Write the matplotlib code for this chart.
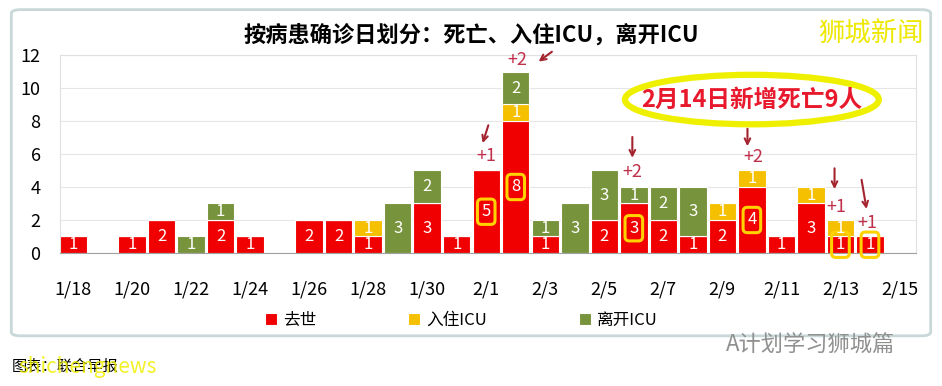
import matplotlib
matplotlib.use('Agg')
from matplotlib import pyplot as plt
from matplotlib.patches import FancyBboxPatch, Ellipse

plt.rcParams['font.family'] = ['Noto Sans CJK SC', 'DejaVu Sans']

dates = ['1/18', '1/19', '1/20', '1/21', '1/22', '1/23', '1/24', '1/25', '1/26', '1/27',
         '1/28', '1/29', '1/30', '1/31', '2/1', '2/2', '2/3', '2/4', '2/5', '2/6',
         '2/7', '2/8', '2/9', '2/10', '2/11', '2/12', '2/13', '2/14', '2/15']
died = [1, 0, 1, 2, 0, 2, 1, 0, 2, 2, 1, 0, 3, 1, 5, 8, 1, 0, 2, 3, 2, 1, 2, 4, 1, 3, 1, 1, 0]
icu_in = [0, 0, 0, 0, 0, 0, 0, 0, 0, 0, 1, 0, 0, 0, 0, 1, 0, 0, 0, 0, 0, 0, 1, 1, 0, 1, 1, 0, 0]
icu_out = [0, 0, 0, 0, 1, 1, 0, 0, 0, 0, 0, 3, 2, 0, 0, 2, 1, 3, 3, 1, 2, 3, 0, 0, 0, 0, 0, 0, 0]
# new deaths added on 2/14, by diagnosis date
added = {'2/1': '+1', '2/2': '+2', '2/6': '+2', '2/10': '+2', '2/13': '+1', '2/14': '+1'}

red = '#F00000'
yellow = '#F5C000'
green = '#77933C'
dark = '#A3232E'

fig = plt.figure(figsize=(9.42, 3.86), dpi=100)
# outer chart frame
frame = FancyBboxPatch((0.012, 0.13), 0.976, 0.845, boxstyle='round,pad=0,rounding_size=0.01',
                       transform=fig.transFigure, facecolor='white', edgecolor='#C8D8D8', lw=2, zorder=-5)
fig.patches.append(frame)
ax = fig.add_axes([0.0637, 0.3446, 0.9087, 0.5129])
ax.patch.set_alpha(0)

x = list(range(len(dates)))
bottom2 = [a + b for a, b in zip(died, icu_in)]
b1 = ax.bar(x, died, width=0.93, color=red, edgecolor='white', linewidth=0.8, label='去世')
b2 = ax.bar(x, icu_in, bottom=died, width=0.93, color=yellow, edgecolor='white', linewidth=0.8, label='入住ICU')
b3 = ax.bar(x, icu_out, bottom=bottom2, width=0.93, color=green, edgecolor='white', linewidth=0.8, label='离开ICU')

for i in x:
    if died[i]:
        if dates[i] in added:
            ax.text(i, died[i] / 2, str(died[i]), ha='center', va='center', color='white', fontsize=12,
                    bbox=dict(boxstyle='round,pad=0.25', fc='none', ec='#FFD200', lw=2.2))
        else:
            ax.text(i, died[i] / 2, str(died[i]), ha='center', va='center', color='white', fontsize=12)
    if icu_in[i]:
        ax.text(i, died[i] + icu_in[i] / 2, str(icu_in[i]), ha='center', va='center', color='white', fontsize=12)
    if icu_out[i]:
        ax.text(i, bottom2[i] + icu_out[i] / 2, str(icu_out[i]), ha='center', va='center', color='white', fontsize=12)

# arrows and "+n" notes
notes = {'2/1': ((0.1, 7.9), (-0.15, 6.5), (0.0, 5.9)),
         '2/2': ((1.3, 12.3), (0.7, 11.5), (0.05, 11.7)),
         '2/6': ((-0.05, 7.2), (-0.05, 5.6), (-0.05, 4.9)),
         '2/10': ((-0.15, 7.7), (-0.15, 6.3), (0.05, 5.8)),
         '2/13': ((-0.2, 5.3), (-0.2, 3.7), (-0.15, 2.8)),
         '2/14': ((-0.3, 4.6), (-0.1, 2.5), (-0.1, 1.8))}
for d, (start, end, txt) in notes.items():
    i = dates.index(d)
    ax.annotate('', xy=(i + end[0], end[1]), xytext=(i + start[0], start[1]),
                arrowprops=dict(arrowstyle='->', color=dark, lw=1.5), annotation_clip=False)
    ax.text(i + txt[0], txt[1], added[d], ha='center', va='center', color='#C0304A', fontsize=13, clip_on=False)

# highlight bubble
ax.add_patch(Ellipse((23.0, 9.3), 8.6, 3.0, facecolor='white', edgecolor='#EEF000', lw=4.5, zorder=5))
ax.text(23.0, 9.3, '2月14日新增死亡9人', ha='center', va='center', color='#E8192C', fontsize=17,
        fontweight='bold', zorder=6)

ax.set_xlim(-0.44, 28.56)
ax.set_ylim(0, 12)
ax.set_yticks(range(0, 13, 2))
ax.set_xticks(x[::2])
ax.set_xticklabels(dates[::2])
ax.tick_params(axis='x', length=0, pad=20, labelsize=13)
ax.tick_params(axis='y', length=0, pad=14, labelsize=13)
ax.grid(axis='y', color='#E6E6E6', lw=0.8)
ax.set_axisbelow(True)
for s in ['top', 'right', 'left']:
    ax.spines[s].set_color('#E0E0E0')
ax.spines['bottom'].set_color('#A0A0A0')

fig.text(0.5, 0.91, '按病患确诊日划分：死亡、入住ICU，离开ICU', ha='center', va='center',
         fontsize=16, fontweight='bold')
fig.text(0.925, 0.912, '狮城新闻', ha='center', va='center', fontsize=19, color='#EEE800')

fig.legend(handles=[b1, b2, b3], loc='center', bbox_to_anchor=(0.49, 0.17), ncol=3, frameon=False,
           fontsize=12, handlelength=0.7, handleheight=0.7, columnspacing=5.5, handletextpad=0.4)

fig.text(0.86, 0.105, 'A计划学习狮城篇', ha='center', va='center', fontsize=16, color='#909090')
fig.text(0.012, 0.05, '图表：联合早报', ha='left', va='center', fontsize=11, color='black')
fig.text(0.02, 0.05, 'shichengnews', ha='left', va='center', fontsize=15, color='#F0F000', alpha=0.85)

fig.savefig('out.png', dpi=100)
